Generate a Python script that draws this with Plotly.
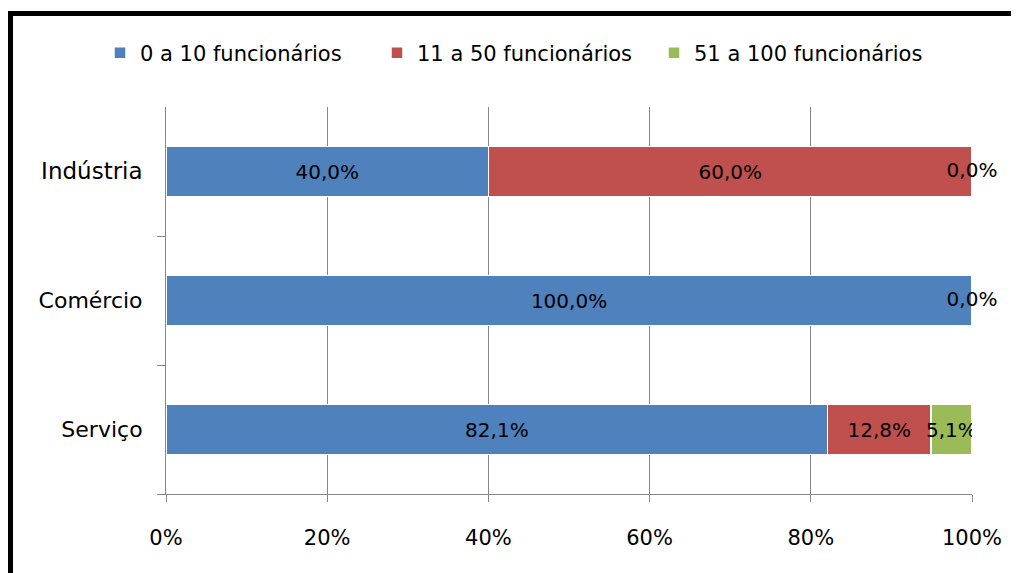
import plotly.graph_objects as go
import numpy as np

categories = ["Indústria", "Comércio", "Serviço"]
series_names = ["0 a 10 funcionários", "11 a 50 funcionários", "51 a 100 funcionários"]
v_0_10 = [40.0, 100.0, 82.1]
v_11_50 = [60.0, 0.0, 12.8]
v_51_100 = [0.0, 0.0, 5.1]
colors = ["#4F81BD", "#C0504D", "#9BBB59"]
x_ticks = [0, 20, 40, 60, 80, 100]
x_ticklabels = ["0%", "20%", "40%", "60%", "80%", "100%"]
y_label_sizes = [23, 22, 22]

FONT = "DejaVu Sans"
OFF = 8  # page body margin
W, H = 1019 - OFF, 573 - OFF
L, T = 166 - OFF, 107 - OFF
R = W - (972 - OFF)
B = H - (494 - OFF)
PW, PH = W - L - R, H - T - B


def px2x(px):
    return (px - OFF - L) / PW


def px2y(py):
    return (H - B - (py - OFF)) / PH


def fmt(v):
    return f"{v:.1f}".replace(".", ",") + "%"


series = [v_0_10, v_11_50, v_51_100]
fig = go.Figure()
for name, vals, col in zip(series_names, series, colors):
    fig.add_trace(go.Bar(
        y=categories, x=vals, name=name, orientation="h",
        marker=dict(color=col, line=dict(color="white", width=1.5)),
        text=[fmt(v) if v > 0 else "" for v in vals],
        textposition="inside", insidetextanchor="middle", textangle=0,
        constraintext="none",
        insidetextfont=dict(family=FONT, size=20, color="black"),
        hoverinfo="skip",
    ))

# labels for zero-width segments, placed at their cumulative position
cum = np.cumsum(np.array(series), axis=0)
zx, zy, zt = [], [], []
seen = set()
for si, vals in enumerate(series):
    for ci, v in enumerate(vals):
        if v == 0:
            key = (float(cum[si][ci]), categories[ci])
            if key in seen:
                continue
            seen.add(key)
            zx.append(cum[si][ci])
            zy.append(categories[ci])
            zt.append(fmt(v))
fig.add_trace(go.Scatter(
    x=zx, y=zy, text=zt, mode="text", textposition="middle center",
    textfont=dict(family=FONT, size=20, color="black"),
    showlegend=False, hoverinfo="skip", cliponaxis=False,
))

ticktext = [f'<span style="font-size:{s}px">{c}</span>' for c, s in zip(categories, y_label_sizes)]

fig.update_layout(
    width=W, height=H,
    margin=dict(l=L, r=R, t=T, b=B, pad=0),
    barmode="stack", bargap=0.612,
    paper_bgcolor="white", plot_bgcolor="white",
    font=dict(family=FONT, size=20, color="black"),
    legend=dict(
        orientation="h", x=px2x(100), xanchor="left", y=px2y(53), yanchor="middle",
        font=dict(family=FONT, size=21, color="black"),
        entrywidth=232, traceorder="normal",
        bgcolor="rgba(0,0,0,0)",
    ),
    xaxis=dict(
        range=[0, 100], tickvals=x_ticks, ticktext=x_ticklabels,
        showgrid=True, gridcolor="#878787", gridwidth=1,
        showline=True, linecolor="#878787", linewidth=1,
        ticks="outside", ticklen=7, tickcolor="#878787",
        ticklabelstandoff=18,
        tickfont=dict(family=FONT, size=21, color="black"),
        zeroline=False, fixedrange=True,
    ),
    yaxis=dict(
        type="category", categoryorder="array", categoryarray=categories[::-1],
        tickvals=categories, ticktext=ticktext,
        range=[-0.5, 2.5], tickson="boundaries",
        showline=True, linecolor="#878787", linewidth=1,
        ticks="outside", ticklen=8, tickcolor="#878787",
        ticklabelstandoff=18,
        showgrid=False, zeroline=False,
        tickfont=dict(family=FONT, size=22, color="black"),
    ),
    showlegend=True,
)

# outer black frame (top and left edges visible in the picture)
fig.add_shape(type="line", xref="paper", yref="paper",
              x0=px2x(7), x1=px2x(1030), y0=px2y(13.5), y1=px2y(13.5),
              line=dict(color="black", width=5), layer="above")
fig.add_shape(type="line", xref="paper", yref="paper",
              x0=px2x(10), x1=px2x(10), y0=px2y(11), y1=px2y(600),
              line=dict(color="black", width=6), layer="above")

fig.write_html("out.html")
